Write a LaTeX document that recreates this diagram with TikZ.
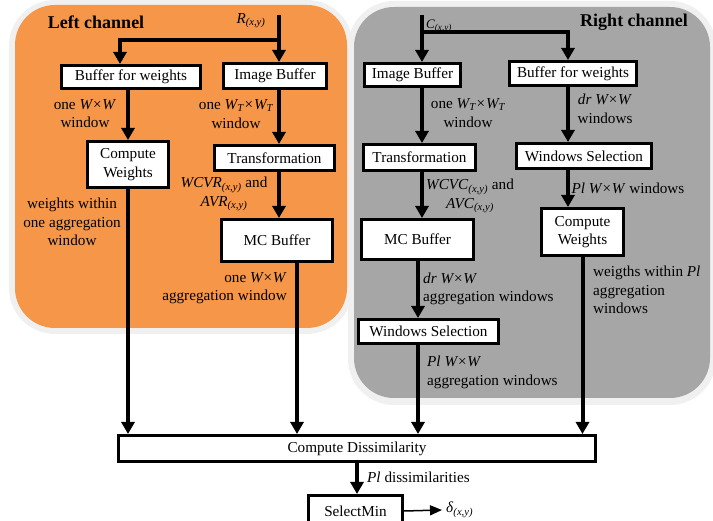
\documentclass[tikz,border=0pt]{standalone}
\usepackage{fontspec}
\setmainfont{Liberation Serif}
\usetikzlibrary{arrows.meta}
\definecolor{panelorange}{RGB}{245,150,72}
\definecolor{panelgray}{RGB}{166,166,166}
\definecolor{panelrim}{RGB}{240,240,240}
\newcommand\fsz{\fontsize{15.2}{18.5}\selectfont}
\newcommand\pxy{\textsubscript{\textit{(x,y)}}}
\begin{document}
\begin{tikzpicture}[x=1pt,y=-1pt,
  box/.style={draw, line width=3pt, fill=white, inner sep=0pt, align=center, font=\fsz},
  lbl/.style={inner sep=0pt, font=\fsz},
  flow/.style={line width=4pt, -{Triangle[length=12pt,width=13pt]}},
  thinflow/.style={line width=1.5pt, -{Triangle[length=12pt,width=10pt]}},
  title/.style={inner sep=0pt, font=\fontsize{18}{20}\selectfont\bfseries},
]
\useasboundingbox (0,0) rectangle (713,521);

% channel panels
\fill[panelrim, rounded corners=46pt] (9,0) rectangle (353,334);
\fill[panelorange, rounded corners=40pt] (15,5) rectangle (347,328);
\fill[panelrim, rounded corners=46pt] (348,1) rectangle (716,405);
\fill[panelgray, rounded corners=40pt] (354,7) rectangle (710,398);

\node[title] (ltitle) at (96,22) {Left channel};
\node[title] (rtitle) at (634,22) {Right channel};

% left channel blocks
\node[box, minimum width=139pt, minimum height=23pt] (lbw) at (131,77) {Buffer for weights};
\node[box, minimum width=103pt, minimum height=25pt] (lib) at (275,76) {Image Buffer};
\node[box, minimum width=81pt, minimum height=46pt] (lcw) at (128,164.5) {Compute\\Weights};
\node[box, minimum width=120pt, minimum height=25pt] (ltr) at (274.5,158) {Transformation};
\node[box, minimum width=111pt, minimum height=42pt] (lmc) at (277,240.5) {MC Buffer};

% right channel blocks
\node[box, minimum width=96pt, minimum height=23pt] (rib) at (412.5,75) {Image Buffer};
\node[box, minimum width=127pt, minimum height=24pt] (rbw) at (573,73.5) {Buffer for weights};
\node[box, minimum width=112pt, minimum height=26pt] (rtr) at (419.5,157.5) {Transformation};
\node[box, minimum width=135pt, minimum height=25pt] (rws1) at (584,156) {Windows Selection};
\node[box, minimum width=112pt, minimum height=40pt] (rmc) at (417.5,239.5) {MC Buffer};
\node[box, minimum width=82pt, minimum height=47pt] (rcw) at (582.5,232) {Compute\\Weights};
\node[box, minimum width=140pt, minimum height=24pt] (rws2) at (428.5,331.5) {Windows Selection};

% common blocks
\node[box, minimum width=477pt, minimum height=26pt] (cd) at (357,448.5) {Compute Dissimilarity};
\node[box, minimum width=94pt, minimum height=31pt] (sm) at (355.5,511) {SelectMin};

% inputs and column positions
\coordinate (rin) at (279,15);
\coordinate (rfork) at (279,40);
\coordinate (rleft) at (120,40);
\coordinate (cin) at (422,15);
\coordinate (cfork) at (422,32);
\coordinate (cright) at (568,32);
\coordinate (lmcout) at (297,0);
\coordinate (rmcout) at (418,0);

\node[lbl, anchor=base] (rname) at (251,23.5) {\textit{R}\pxy};
\node[inner sep=0pt, anchor=base, font=\fontsize{13}{15}\selectfont] (cname) at (439,28.5) {\textit{C}\pxy};

% data flow
\draw[flow] (rin) -- (lib.north -| rin);
\draw[flow] (rfork) -| (lbw.north -| rleft);
\draw[flow] (lbw.south -| lcw.north) -- (lcw.north);
\draw[flow] (lib.south -| rin) -- (ltr.north -| rin);
\draw[flow] (ltr.south -| rin) -- (lmc.north -| rin);
\draw[flow] (lcw.south) -- (cd.north -| lcw.south);
\draw[flow] (lmc.south -| lmcout) -- (cd.north -| lmcout);
\draw[flow] (cin) -- (rib.north -| cin);
\draw[flow] (cfork) -| (rbw.north -| cright);
\draw[flow] (rib.south -| cin) -- (rtr.north -| cin);
\draw[flow] (rbw.south -| cright) -- (rws1.north -| cright);
\draw[flow] (rws1.south -| cright) -- (rcw.north -| cright);
\draw[flow] (rtr.south -| cin) -- (rmc.north -| cin);
\draw[flow] (rmc.south -| rmcout) -- (rws2.north -| rmcout);
\draw[flow] (rws2.south -| rmcout) -- (cd.north -| rmcout);
\draw[flow] (rcw.south) -- (cd.north -| rcw.south);
\draw[flow] (cd.south) -- (sm.north -| cd.south);

% connector labels
\node[lbl, align=center] (l1) at (85,113.5) {one \textit{W×W}\\window};
\node[lbl, align=center] (l2) at (236,114) {one \textit{W\textsubscript{T}×W\textsubscript{T}}\\window};
\node[lbl, align=center] (l3) at (72,222) {weights within\\one aggregation\\window};
\node[lbl, align=center] (l4) at (224,194) {\textit{WCVR}\pxy{} and\\\textit{AVR}\pxy};
\node[lbl, align=right, anchor=east] (l5) at (287,288) {one \textit{W×W}\\aggregation window};
\node[lbl, align=center] (r1) at (468,113) {one \textit{W\textsubscript{T}×W\textsubscript{T}}\\window};
\node[lbl, align=center] (r2) at (605,109) {\textit{dr W×W}\\windows};
\node[lbl, align=center] (r3) at (470,196) {\textit{WCVC}\pxy{} and\\\textit{AVC}\pxy};
\node[lbl] (r4) at (628,188) {\textit{Pl W×W} windows};
\node[lbl, align=left, anchor=west] (r5) at (423,289) {\textit{dr W×W}\\aggregation windows};
\node[lbl, align=left, anchor=west] (r6) at (593,290) {weigths within \textit{Pl}\\aggregation\\windows};
\node[lbl, align=left, anchor=west] (r7) at (427,372.5) {\textit{Pl W×W}\\aggregation windows};
\node[lbl, anchor=west] (pd) at (367,477) {\textit{Pl} dissimilarities};
\node[lbl, anchor=west] (dlt) at (446,510) {\textit{δ}\pxy};

\draw[thinflow] (sm.east) -- ([xshift=-4pt]dlt.west);
\end{tikzpicture}
\end{document}
